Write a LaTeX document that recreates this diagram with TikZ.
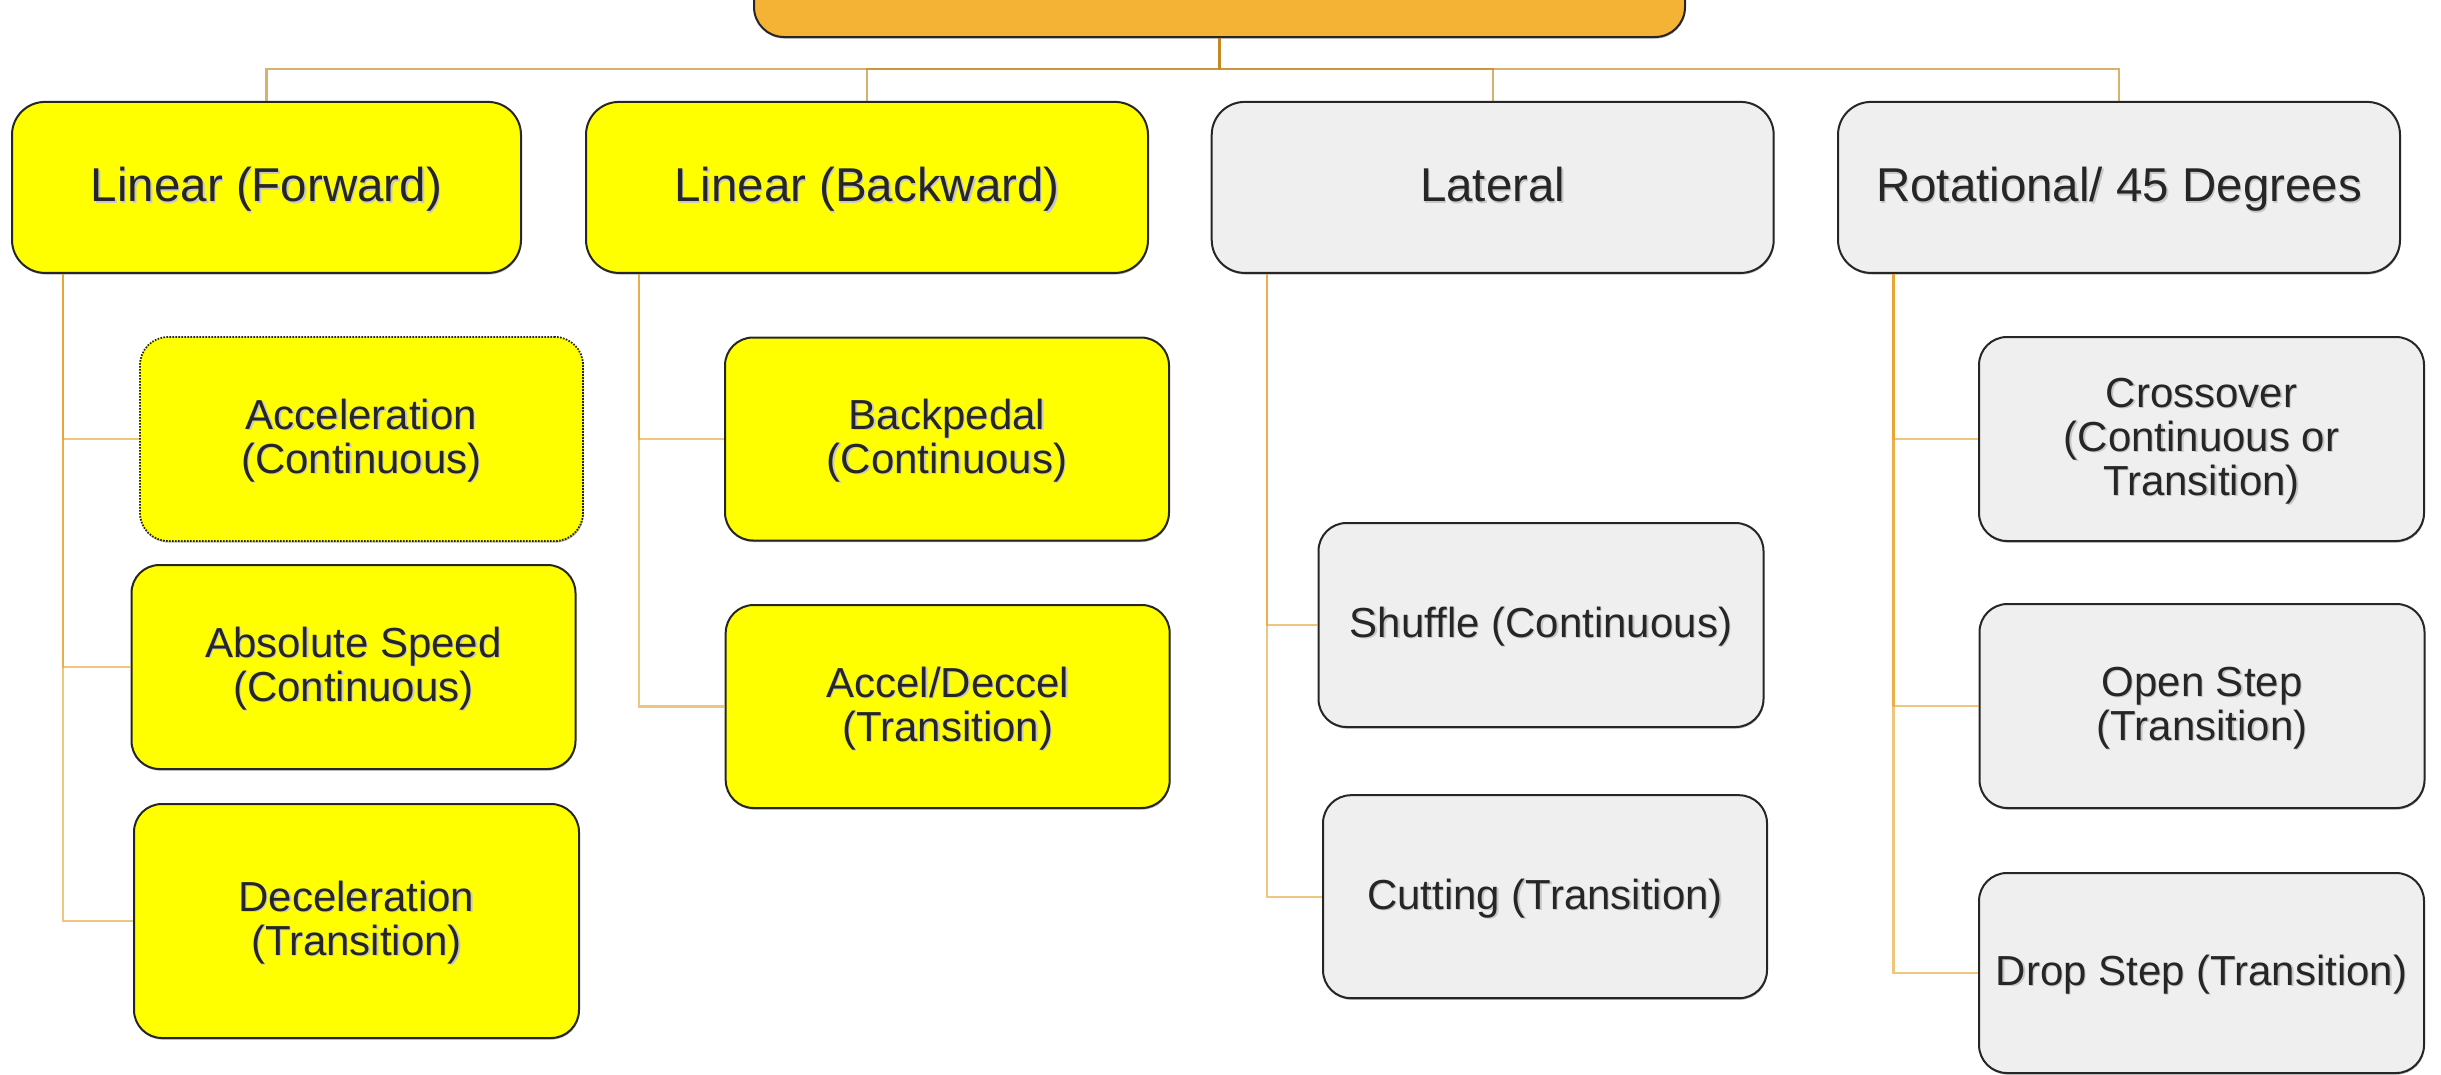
\documentclass[tikz,border=0pt]{standalone}
\usepackage{fontspec}
\setmainfont{Liberation Sans}
\usetikzlibrary{shadows}

\definecolor{ink}{HTML}{262626}
\definecolor{boxline}{HTML}{262626}
\definecolor{hilite}{HTML}{FFFF00}
\definecolor{soft}{HTML}{EFEFEF}
\definecolor{rootfill}{HTML}{F4B335}
\definecolor{trunk}{RGB}{192,136,32}
\definecolor{branch}{RGB}{230,160,40}

% text with a faint offset shadow behind it
\newcommand\shtext[1]{\leavevmode\rlap{\hspace{1.3pt}\raisebox{-1.3pt}{\textcolor{black!22}{#1}}}#1}
% struts that fix the height of the first line and the depth of the last
\newcommand\lnTop{\rule{0pt}{35pt}}
\newcommand\lnBot{\rule[-9pt]{0pt}{9pt}}

\tikzset{
  box/.style={rectangle, draw=boxline, line width=2pt, rounded corners=28pt,
    inner sep=0pt, text=ink, align=center,
    drop shadow={shadow xshift=0.6pt, shadow yshift=-1.6pt, opacity=0.3, fill=black}},
  head/.style={box, rounded corners=33pt, minimum height=171pt,
    text height=35pt, text depth=6.4pt,
    font=\fontsize{47.5}{50}\selectfont},
  leaf/.style={box, minimum width=444pt, minimum height=204pt,
    font=\fontsize{42}{44}\selectfont},
  yel/.style={fill=hilite},
  gry/.style={fill=soft},
  dotbox/.style={dash pattern=on 1.6pt off 1.4pt, line width=1.8pt},
  trunkline/.style={draw=trunk, line width=2.2pt, draw opacity=0.65},
  branchline/.style={draw=branch, line width=2.2pt, draw opacity=0.6},
}

\begin{document}
\begin{tikzpicture}[x=1pt, y=-1pt]
  \useasboundingbox (0,0) rectangle (2441,1074);
  \clip (0,0) rectangle (2441,1074);

  % root box (its upper part lies above the page)
  \node[box, fill=rootfill, rounded corners=30pt, minimum width=931pt, minimum height=140pt] (root) at (1219.5,-33) {};

  % first level
  \node[head, yel, minimum width=509pt] (fwd)  at (266.5,187.4) {\shtext{Linear (Forward)}};
  \node[head, yel, minimum width=562pt] (back) at (867,187.4)   {\shtext{Linear (Backward)}};
  \node[head, gry, minimum width=562pt] (lat)  at (1492.7,187.4){\shtext{Lateral}};
  \node[head, gry, minimum width=562pt] (rot)  at (2119,187.4)  {\shtext{Rotational/ 45 Degrees}};

  % Linear (Forward) items
  \node[leaf, yel, dotbox, minimum width=443pt] (accel) at (361.5,439) {\lnTop\shtext{Acceleration}\\\shtext{(Continuous)}\lnBot};
  \node[leaf, yel] (abs)   at (353.5,667) {\lnTop\shtext{Absolute Speed}\\\shtext{(Continuous)}\lnBot};
  \node[leaf, yel, minimum width=445pt, minimum height=234pt] (decel) at (356.5,921) {\lnTop\shtext{Deceleration}\\\shtext{(Transition)}\lnBot};

  % Linear (Backward) items
  \node[leaf, yel, minimum height=203pt] (pedal) at (947,439)     {\lnTop\shtext{Backpedal}\\\shtext{(Continuous)}\lnBot};
  \node[leaf, yel, minimum height=203pt] (ad)    at (947.7,706.5) {\lnTop\shtext{Accel/Deccel}\\\shtext{(Transition)}\lnBot};

  % Lateral items
  \node[leaf, gry, minimum width=445pt] (shuffle) at (1541,625)   {\lnTop\shtext{Shuffle (Continuous)}\lnBot};
  \node[leaf, gry, minimum height=203pt] (cut)    at (1545,896.7) {\lnTop\shtext{Cutting (Transition)}\lnBot};

  % Rotational items
  \node[leaf, gry, minimum width=445pt] (cross) at (2201.5,439) {\lnTop\shtext{Crossover}\\\shtext{(Continuous or}\\\shtext{Transition)}\lnBot};
  \node[leaf, gry, minimum width=445pt] (open)  at (2202,706)   {\lnTop\shtext{Open Step}\\\shtext{(Transition)}\lnBot};
  \node[leaf, gry, minimum width=445pt, minimum height=200pt] (drop) at (2201.5,973) {\lnTop\shtext{Drop Step (Transition)}\lnBot};

  % root to first level
  \coordinate (bus) at (1219.5,69);
  \foreach \h in {fwd,back,lat,rot}
    \draw[trunkline] (root.south) -- (root.south |- bus) -| (\h.north);

  % first level to items
  \foreach \c in {accel,abs,decel}
    \draw[branchline] ([xshift=52pt]fwd.south west) |- (\c.west);
  \foreach \c in {pedal,ad}
    \draw[branchline] ([xshift=54pt]back.south west) |- (\c.west);
  \foreach \c in {shuffle,cut}
    \draw[branchline] ([xshift=56pt]lat.south west) |- (\c.west);
  \foreach \c in {cross,open,drop}
    \draw[branchline] ([xshift=56.5pt]rot.south west) |- (\c.west);
\end{tikzpicture}
\end{document}
